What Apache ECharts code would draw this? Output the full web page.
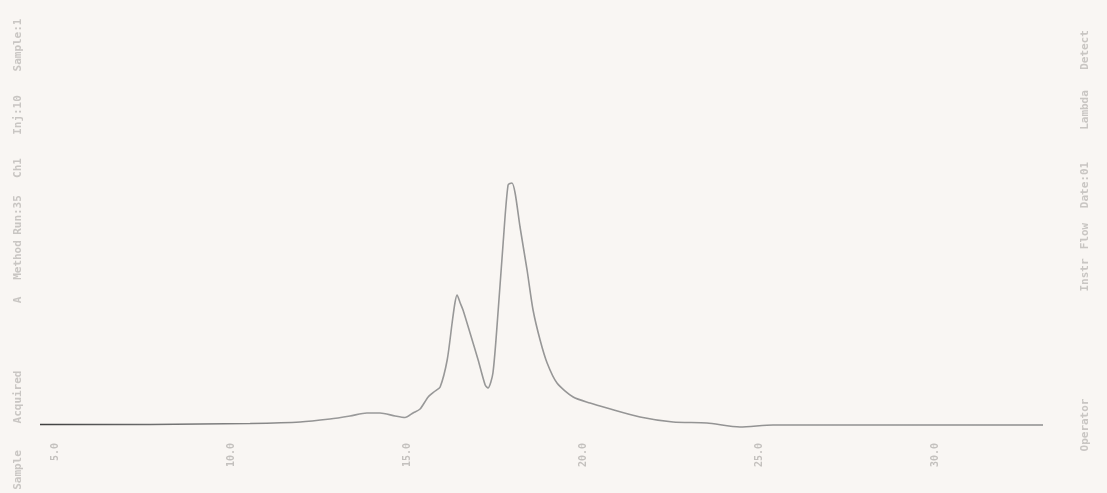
<!DOCTYPE html>
<html>
<head>
<meta charset="utf-8">
<script src="https://cdn.jsdelivr.net/npm/echarts@6/dist/echarts.min.js"></script>
<style>
html,body{margin:0;padding:0;background:#f9f6f3;}
#c{width:1107px;height:493px;}
</style>
</head>
<body>
<div id="c"></div>
<script>
// Retention time (min) and detector signal
const times = [4.57, 6.28, 7.70, 9.12, 10.54, 11.96, 12.81, 13.38, 13.86, 14.23, 14.66, 14.94, 15.17, 15.37, 15.60, 15.80, 15.94, 16.14, 16.28, 16.36, 16.42, 16.51, 16.59, 16.79, 17.02, 17.22, 17.30, 17.44, 17.59, 17.73, 17.87, 17.98, 18.07, 18.21, 18.41, 18.58, 18.78, 18.98, 19.26, 19.72, 20.20, 20.68, 21.62, 22.56, 23.52, 24.46, 25.40, 27.59, 30.43, 33.07];
const signal = [0.5, 0.5, 0.5, 1, 1.5, 3, 6, 9, 12, 12, 9, 7.5, 12, 16, 28, 34, 38, 65, 102, 122, 130, 122, 115, 92, 65, 40, 37, 52, 115, 182, 240, 242, 232, 198, 155, 115, 85, 62, 42, 28, 22, 17, 8, 3, 2, -2, 0, 0, 0, 0];
const tickValues = [5, 10, 15, 20, 25, 30];
const leftTexts = ["Sample:1", "Inj:10", "Ch1", "Run:35", "Method", "A", "Acquired", "Sample"];
const rightTexts = ["Detect", "Lambda", "Date:01", "Flow", "Instr", "Operator"];

const chart = echarts.init(document.getElementById('c'));
const pts = times.map((t, i) => [t, signal[i]]);

function vtext(x, y, txt) {
  return { type: 'text', x: x, y: y, rotation: Math.PI / 2,
    style: { text: txt, fill: '#c9c6c3', font: 'bold 11px "DejaVu Sans Mono"', align: 'center', verticalAlign: 'middle' } };
}
const leftY = [45, 115, 168, 215, 260, 300, 397, 470];
const rightY = [50, 110, 185, 236, 275, 425];
const graphics = [];
leftTexts.forEach((t, i) => graphics.push(vtext(18, leftY[i], t)));
rightTexts.forEach((t, i) => graphics.push(vtext(1085, rightY[i], t)));

chart.setOption({
  backgroundColor: '#f9f6f3',
  animation: false,
  grid: { left: 40, right: 64, top: 20, bottom: 63 },
  xAxis: {
    type: 'value', min: 4.57, max: 33.07,
    axisLine: { show: false }, axisTick: { show: false }, splitLine: { show: false },
    axisLabel: {
      customValues: tickValues, rotate: 90, color: '#c4c1be', fontSize: 10,
      fontFamily: 'DejaVu Sans Mono', fontWeight: 'bold', margin: 13,
      formatter: v => v.toFixed(1)
    }
  },
  yAxis: {
    type: 'value', min: -5, max: 405, show: false
  },
  graphic: graphics,
  series: [{
    type: 'line', data: pts, showSymbol: false, smooth: 0.25,
    lineStyle: {
      width: 1.6,
      color: new echarts.graphic.LinearGradient(0, 0, 1, 0, [
        { offset: 0, color: '#3e3e3e' },
        { offset: 0.12, color: '#707070' },
        { offset: 0.3, color: '#9a9a9a' },
        { offset: 1, color: '#8e8e8e' }
      ])
    }
  }]
});
</script>
</body>
</html>
